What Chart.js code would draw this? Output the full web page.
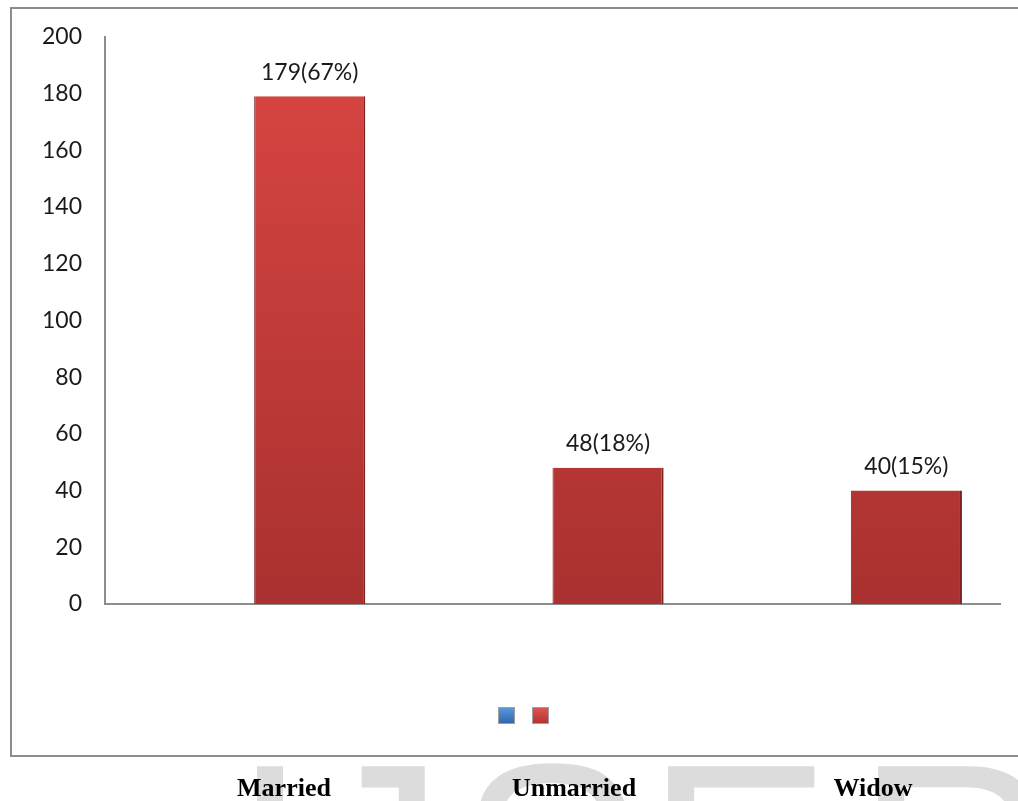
<!DOCTYPE html>
<html>
<head>
<meta charset="utf-8">
<script src="https://cdn.jsdelivr.net/npm/chart.js@4.4.0/dist/chart.umd.min.js"></script>
<style>
  html, body { margin: 0; padding: 0; background: #fff; overflow: hidden; }
  body { width: 1018px; height: 801px; position: relative; }
  #frame { position: absolute; left: 10px; top: 7px; width: 1030px; height: 750px; box-sizing: border-box;
           border: 2px solid #8c8c8c; background: transparent; z-index: 1; }
  #chartWrap { position: absolute; left: 0; top: 0; width: 1018px; height: 801px; z-index: 2; }
  .cat { position: absolute; top: 775px; width: 200px; margin-left: -100px; text-align: center;
         font: bold 26px/26px "Liberation Serif", "Times New Roman", serif; color: #000; z-index: 3; }
</style>
</head>
<body>
<div id="frame"></div>
<div id="chartWrap"><canvas id="chart" width="1018" height="801"></canvas></div>
<div id="cats"></div>

<script>
var categories = ['Married', 'Unmarried', 'Widow'];
var counts = [179, 48, 40];
var percents = [67, 18, 15];
var emptySeries = [null, null, null];
var yTicks = { min: 0, max: 200, step: 20 };

// category names sit under the frame, in the text of the page
var catX = [284, 574, 873];
categories.forEach(function(name, i) {
  var d = document.createElement('div');
  d.className = 'cat';
  d.style.left = catX[i] + 'px';
  d.textContent = name;
  document.getElementById('cats').appendChild(d);
});

function redFill(ctx) {
  var area = ctx.chart.chartArea;
  if (!area) return '#c83c3a';
  var g = ctx.chart.ctx.createLinearGradient(0, area.top, 0, area.bottom);
  g.addColorStop(0, '#da4643');
  g.addColorStop(1, '#a9312f');
  return g;
}

// faint journal watermark, only its top shows under the frame
var watermark = {
  id: 'watermark',
  beforeDraw: function(chart) {
    var c = chart.ctx;
    var marks = [['I', 253, 'left'], ['J', 428, 'right'], ['S', 466, 'left'], ['E', 667, 'left'], ['R', 877, 'left']];
    c.save();
    c.beginPath();
    c.rect(0, 760, chart.width, chart.height - 760);
    c.clip();
    c.font = '280px "Liberation Sans", Arial, sans-serif';
    c.fillStyle = '#dcdcdc';
    c.textAlign = 'left';
    c.textBaseline = 'alphabetic';
    var cap = c.measureText('E').actualBoundingBoxAscent;
    marks.forEach(function(m) {
      var mt = c.measureText(m[0]);
      var x = m[2] === 'left' ? m[1] + mt.actualBoundingBoxLeft : m[1] - mt.actualBoundingBoxRight;
      c.fillText(m[0], x, 762 + cap);
    });
    c.restore();
  }
};

var valueLabels = {
  id: 'valueLabels',
  afterDatasetsDraw: function(chart) {
    var c = chart.ctx;
    var meta = chart.getDatasetMeta(1);
    c.save();
    c.font = '23px Lato, "Open Sans", sans-serif';
    c.fillStyle = '#1a1a1a';
    c.textAlign = 'center';
    c.textBaseline = 'middle';
    meta.data.forEach(function(bar, i) {
      c.fillText(counts[i] + '(' + percents[i] + '%)', bar.x, bar.y - 24);
    });
    c.restore();
  }
};

// two unlabeled series keys, as in the original
var boxLegend = {
  id: 'boxLegend',
  afterDraw: function(chart) {
    var c = chart.ctx;
    var x = 498, y = 707, s = 17, gap = 34;
    c.save();
    chart.data.datasets.forEach(function(ds, i) {
      var bx = x + i * gap;
      var g = c.createLinearGradient(0, y, 0, y + s);
      g.addColorStop(0, ds.legendLight);
      g.addColorStop(1, ds.legendColor);
      c.fillStyle = g;
      c.fillRect(bx, y, s, s);
      c.strokeStyle = '#a0a0a0';
      c.lineWidth = 1;
      c.strokeRect(bx + 0.5, y + 0.5, s - 1, s - 1);
    });
    c.restore();
  }
};

var chart = new Chart(document.getElementById('chart').getContext('2d'), {
  type: 'bar',
  data: {
    labels: categories,
    datasets: [
      { label: '', data: emptySeries, backgroundColor: '#3f7cc4', legendColor: '#2f64a8', legendLight: '#5b9be0' },
      { label: '', data: counts, backgroundColor: redFill, legendColor: '#b03230', legendLight: '#e25552',
        borderColor: '#7d2120', borderWidth: { left: 1, right: 2, top: 0, bottom: 0 }, borderSkipped: false }
    ]
  },
  options: {
    responsive: false,
    animation: false,
    layout: { padding: { left: 0, right: 18, top: 36, bottom: 187 } },
    datasets: { bar: { categoryPercentage: 0.745, barPercentage: 1 } },
    plugins: {
      tooltip: { enabled: false },
      legend: { display: false }
    },
    scales: {
      x: {
        grid: { display: false },
        border: { color: '#8c8c8c', width: 2 },
        ticks: { display: false },
        afterFit: function(scale) { scale.height = 10; }
      },
      y: {
        min: yTicks.min,
        max: yTicks.max,
        grid: { display: false, drawTicks: false },
        border: { color: '#8c8c8c', width: 2 },
        ticks: {
          stepSize: yTicks.step,
          padding: 23,
          color: '#1a1a1a',
          font: { family: 'Lato, "Open Sans", sans-serif', size: 23 }
        },
        afterFit: function(scale) { scale.width = 105; }
      }
    }
  },
  plugins: [watermark, valueLabels, boxLegend]
});
</script>
</body>
</html>
